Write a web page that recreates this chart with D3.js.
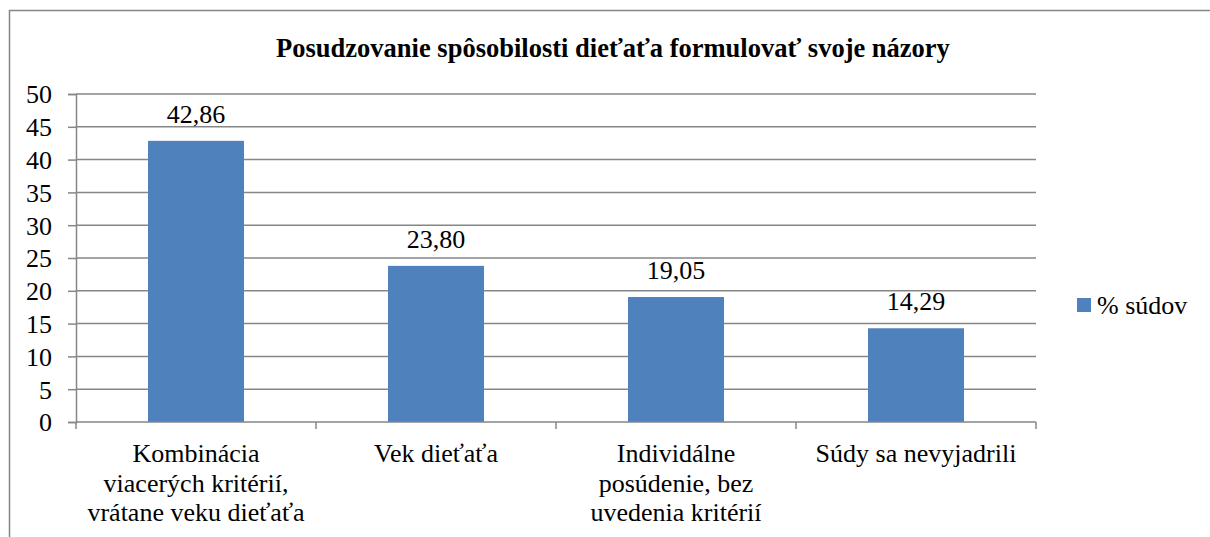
<!DOCTYPE html>
<html>
<head>
<meta charset="utf-8">
<script src="https://cdn.jsdelivr.net/npm/d3@7"></script>
</head>
<body style="margin:0; background:#fff">
<svg id="chart" width="1210" height="537" font-family="Liberation Serif"></svg>
<script>
const categories = [
  ["Kombinácia", "viacerých kritérií,", "vrátane veku dieťaťa"],
  ["Vek dieťaťa"],
  ["Individálne", "posúdenie, bez", "uvedenia kritérií"],
  ["Súdy sa nevyjadrili"]
];
const values = [42.86, 23.80, 19.05, 14.29];
const labels = ["42,86", "23,80", "19,05", "14,29"];
const yTicks = [0, 5, 10, 15, 20, 25, 30, 35, 40, 45, 50];
const seriesName = "% súdov";
const title = "Posudzovanie spôsobilosti dieťaťa formulovať svoje názory";

const font = 'Liberation Serif';
const fs = 26;
const margin = {top: 94, left: 76, right: 1036, bottom: 422};
const grey = '#868686';
const svg = d3.select('#chart');

// outer frame
svg.append('rect')
  .attr('x', 9.5).attr('y', 10.5)
  .attr('width', 1210).attr('height', 540)
  .attr('fill', 'none').attr('stroke', grey).attr('stroke-width', 1.5);

svg.append('text')
  .attr('x', 613).attr('y', 57)
  .attr('text-anchor', 'middle')
  .attr('font-family', font)
  .attr('font-weight', 'bold').attr('font-size', 26.5)
  .text(title);

const x = d3.scaleBand()
  .domain(d3.range(categories.length))
  .range([margin.left, margin.right])
  .paddingInner(0.6).paddingOuter(0.3);

const y = d3.scaleLinear().domain([0, 50]).range([margin.bottom, margin.top]);

// y axis
const yAxis = svg.append('g')
  .attr('transform', 'translate(' + margin.left + ',0)')
  .call(d3.axisLeft(y).tickValues(yTicks).tickSize(8).tickPadding(16));
yAxis.attr('font-family', font);
yAxis.select('.domain').attr('stroke', grey).attr('stroke-width', 1.5);
yAxis.selectAll('.tick line').attr('stroke', grey).attr('stroke-width', 1.5);
yAxis.selectAll('.tick text')
  .attr('font-family', font).attr('font-size', fs).attr('fill', '#000')
  .attr('dy', '0.34em');

// gridlines
svg.append('g')
  .selectAll('line')
  .data(yTicks.filter(d => d > 0))
  .join('line')
    .attr('x1', margin.left).attr('x2', margin.right)
    .attr('y1', d => y(d)).attr('y2', d => y(d))
    .attr('stroke', grey).attr('stroke-width', 1.5);

// bars
svg.append('g')
  .selectAll('rect')
  .data(values)
  .join('rect')
    .attr('x', (d, i) => x(i))
    .attr('y', d => y(d))
    .attr('width', x.bandwidth())
    .attr('height', d => y(0) - y(d))
    .attr('fill', '#4F81BD');

// value labels
svg.append('g')
  .selectAll('text')
  .data(values)
  .join('text')
    .attr('x', (d, i) => x(i) + x.bandwidth() / 2)
    .attr('y', d => y(d) - 18)
    .attr('text-anchor', 'middle')
    .attr('font-family', font)
    .attr('font-size', fs)
    .text((d, i) => labels[i]);

// x axis
const step = (margin.right - margin.left) / categories.length;
svg.append('line')
  .attr('x1', margin.left).attr('x2', margin.right)
  .attr('y1', y(0)).attr('y2', y(0))
  .attr('stroke', grey).attr('stroke-width', 1.5);
svg.append('g')
  .selectAll('line')
  .data(d3.range(categories.length + 1))
  .join('line')
    .attr('x1', d => margin.left + d * step).attr('x2', d => margin.left + d * step)
    .attr('y1', y(0)).attr('y2', y(0) + 7)
    .attr('stroke', grey).attr('stroke-width', 1.5);

const cat = svg.append('g')
  .selectAll('text')
  .data(categories)
  .join('text')
    .attr('text-anchor', 'middle')
    .attr('font-family', font)
    .attr('font-size', fs);
cat.selectAll('tspan')
  .data((d, i) => d.map(t => ({t, i})))
  .join('tspan')
    .attr('x', d => x(d.i) + x.bandwidth() / 2)
    .attr('y', (d, j) => 462 + j * 29.5)
    .text(d => d.t);

// legend
svg.append('rect')
  .attr('x', 1077).attr('y', 298).attr('width', 14).attr('height', 14)
  .attr('fill', '#4F81BD');
svg.append('text')
  .attr('x', 1097).attr('y', 314)
  .attr('font-family', font)
  .attr('font-size', fs)
  .text(seriesName);
</script>
</body>
</html>
